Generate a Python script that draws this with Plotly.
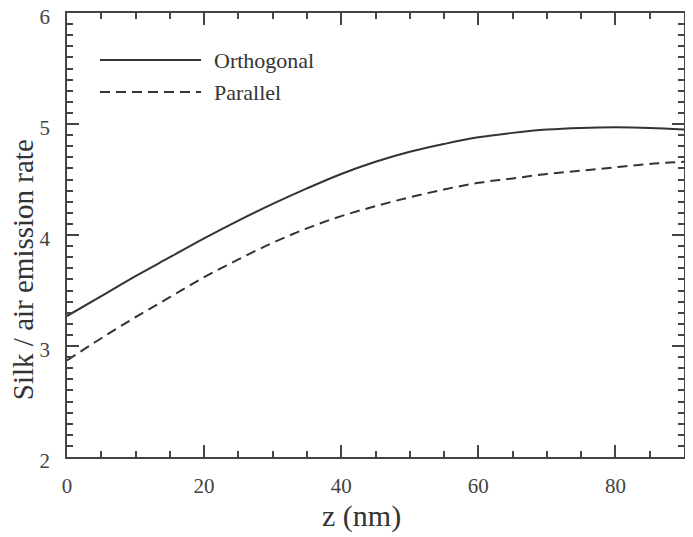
import plotly.graph_objects as go

z = [0, 5, 10, 15, 20, 25, 30, 35, 40, 45, 50, 55, 60, 65, 70, 75, 80, 85, 90]
orthogonal = [3.27, 3.45, 3.63, 3.80, 3.97, 4.13, 4.28, 4.42, 4.55, 4.66, 4.75, 4.82,
              4.88, 4.92, 4.95, 4.965, 4.97, 4.965, 4.95]
parallel = [2.87, 3.07, 3.26, 3.44, 3.62, 3.78, 3.93, 4.06, 4.17, 4.26, 4.34, 4.41,
            4.47, 4.51, 4.55, 4.58, 4.61, 4.64, 4.66]
series_names = ["Orthogonal", "Parallel"]
x_ticks = [0, 20, 40, 60, 80]
y_ticks = [2, 3, 4, 5, 6]
x_title = "z (nm)"
y_title = "Silk / air emission rate"

ink = "#333333"
axc = "#444444"
font = "Liberation Serif"

fig = go.Figure()
fig.add_trace(go.Scatter(x=z, y=orthogonal, mode="lines", name=series_names[0],
                         line=dict(color=ink, width=2, shape="spline")))
fig.add_trace(go.Scatter(x=z, y=parallel, mode="lines", name=series_names[1],
                         line=dict(color=ink, width=2, dash="10px,6px", shape="spline")))

axis_common = dict(showgrid=False, zeroline=False, showline=True, linecolor=axc,
                   linewidth=1.5, mirror="ticks", ticks="inside", ticklen=12,
                   tickwidth=1.5, tickcolor=axc, automargin=False,
                   ticklabeloverflow="allow",
                   tickfont=dict(family=font, size=21, color="#444444"))

fig.update_xaxes(range=[0, 90], tickvals=x_ticks,
                 minor=dict(dtick=5, ticks="inside", ticklen=6, tickwidth=1.5,
                            tickcolor=axc),
                 ticklabelstandoff=9,
                 **axis_common)
fig.update_yaxes(range=[2, 6], tickvals=y_ticks,
                 minor=dict(dtick=0.1, ticks="inside", ticklen=6, tickwidth=1.5,
                            tickcolor=axc),
                 ticklabelstandoff=11, ticklabelshift=4,
                 **axis_common)

# plot area in page pixels: x 67..684, y 13..456.7
def px(xp):
    return (xp - 67) / 617


def py(yp):
    return (456.7 - yp) / 443.7


# axis titles
fig.add_annotation(xref="paper", yref="paper", x=px(361), y=py(516),
                   text=x_title, showarrow=False, xanchor="center", yanchor="middle",
                   font=dict(family=font, size=30, color=ink))
fig.add_annotation(xref="paper", yref="paper", x=px(23), y=py(270),
                   text=y_title, showarrow=False, xanchor="center", yanchor="middle",
                   textangle=-90, font=dict(family=font, size=29, color=ink))

# legend drawn inside the plot, top-left
leg_y = [py(60), py(92)]
dashes = ["solid", "10px,6px"]
for name, yy, d in zip(series_names, leg_y, dashes):
    fig.add_shape(type="line", xref="paper", yref="paper", x0=px(100), x1=px(201),
                  y0=yy, y1=yy, line=dict(color=ink, width=2, dash=d))
    fig.add_annotation(xref="paper", yref="paper", x=px(212), y=yy, text=name,
                       showarrow=False, xanchor="left", yanchor="middle",
                       font=dict(family=font, size=22, color=ink))

# page body has an 8px margin, so the figure is offset by 8px
fig.update_layout(width=685, height=529, showlegend=False,
                  margin=dict(l=59, r=9, t=5, b=80),
                  plot_bgcolor="white", paper_bgcolor="white")

fig.write_html("out.html")
